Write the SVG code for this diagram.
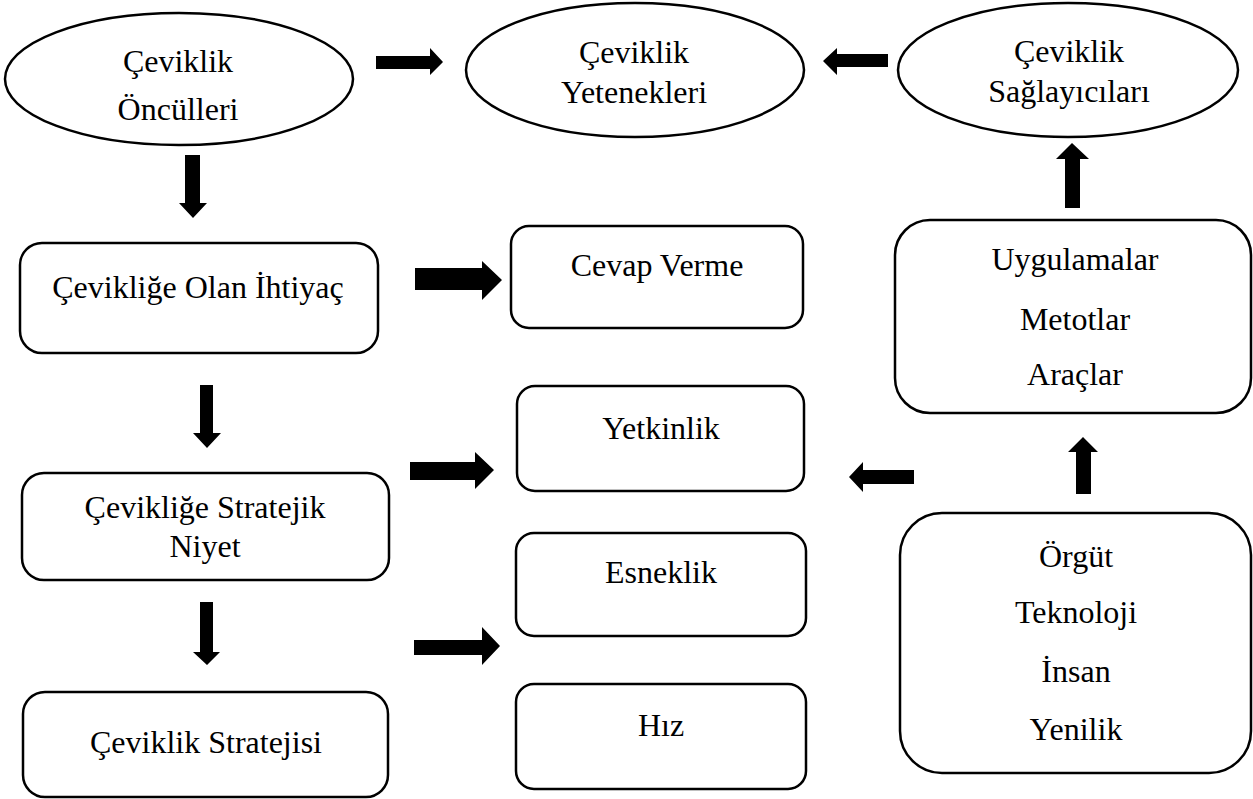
<svg xmlns="http://www.w3.org/2000/svg" width="1253" height="799" viewBox="0 0 1253 799">
<style>
.s{fill:#fff;stroke:#000;stroke-width:2.5}
.t{font-family:'Liberation Serif','Times New Roman','DejaVu Serif',serif;font-size:32px;fill:#000;text-anchor:middle}
.a{fill:#000}
</style>
<rect width="1253" height="799" fill="#fff"/>
<g id="e1"><ellipse class="s" cx="179" cy="79" rx="174" ry="66"/><text class="t" x="178" y="72">Çeviklik</text><text class="t" x="178" y="120">Öncülleri</text></g>
<g id="e2"><ellipse class="s" cx="635" cy="70" rx="169" ry="67"/><text class="t" x="634" y="63">Çeviklik</text><text class="t" x="634" y="103">Yetenekleri</text></g>
<g id="e3"><ellipse class="s" cx="1068" cy="70" rx="170" ry="67"/><text class="t" x="1069" y="62">Çeviklik</text><text class="t" x="1069" y="102">Sağlayıcıları</text></g>
<g id="b1"><rect class="s" x="20" y="243" width="358" height="110" rx="22"/><text class="t" x="198" y="298">Çevikliğe Olan İhtiyaç</text></g>
<g id="b2"><rect class="s" x="22" y="473" width="367" height="107" rx="22"/><text class="t" x="205" y="518">Çevikliğe Stratejik</text><text class="t" x="205" y="557">Niyet</text></g>
<g id="b3"><rect class="s" x="23" y="692" width="365" height="105" rx="22"/><text class="t" x="206" y="753">Çeviklik Stratejisi</text></g>
<g id="b4"><rect class="s" x="511" y="226" width="292" height="102" rx="18"/><text class="t" x="657" y="276">Cevap Verme</text></g>
<g id="b5"><rect class="s" x="517" y="386" width="287" height="105" rx="18"/><text class="t" x="661" y="439">Yetkinlik</text></g>
<g id="b6"><rect class="s" x="516" y="533" width="290" height="103" rx="18"/><text class="t" x="661" y="583">Esneklik</text></g>
<g id="b7"><rect class="s" x="516" y="684" width="290" height="105" rx="18"/><text class="t" x="661" y="736">Hız</text></g>
<g id="b8"><rect class="s" x="895" y="220" width="356" height="193" rx="35"/><text class="t" x="1075" y="270">Uygulamalar</text><text class="t" x="1075" y="330">Metotlar</text><text class="t" x="1075" y="385">Araçlar</text></g>
<g id="b9"><rect class="s" x="900" y="513" width="351" height="260" rx="42"/><text class="t" x="1076" y="567">Örgüt</text><text class="t" x="1076" y="623">Teknoloji</text><text class="t" x="1076" y="682">İnsan</text><text class="t" x="1076" y="740">Yenilik</text></g>
<g id="connectors">
<polygon class="a" points="376,56 430,56 430,48 443,62 430,75 430,69 376,69"/>
<polygon class="a" points="888,54 837,54 837,48 823,61 837,75 837,67 888,67"/>
<polygon class="a" points="185,155 200,155 200,203 207,203 193,218 179,203 185,203"/>
<polygon class="a" points="1065,208 1065,159 1056,159 1072,143 1089,159 1080,159 1080,208"/>
<polygon class="a" points="415,268 482,268 482,261 502,280 482,300 482,290 415,290"/>
<polygon class="a" points="410,462 475,462 475,452 494,470 475,489 475,480 410,480"/>
<polygon class="a" points="914,470 863,470 863,462 849,477 863,492 863,484 914,484"/>
<polygon class="a" points="1076,494 1076,452 1068,452 1083,437 1098,452 1091,452 1091,494"/>
<polygon class="a" points="200,385 213,385 213,433 221,433 207,448 193,433 200,433"/>
<polygon class="a" points="200,602 213,602 213,652 220,652 207,665 193,652 200,652"/>
<polygon class="a" points="414,640 482,640 482,627 500,646 482,665 482,655 414,655"/>
</g>
</svg>
